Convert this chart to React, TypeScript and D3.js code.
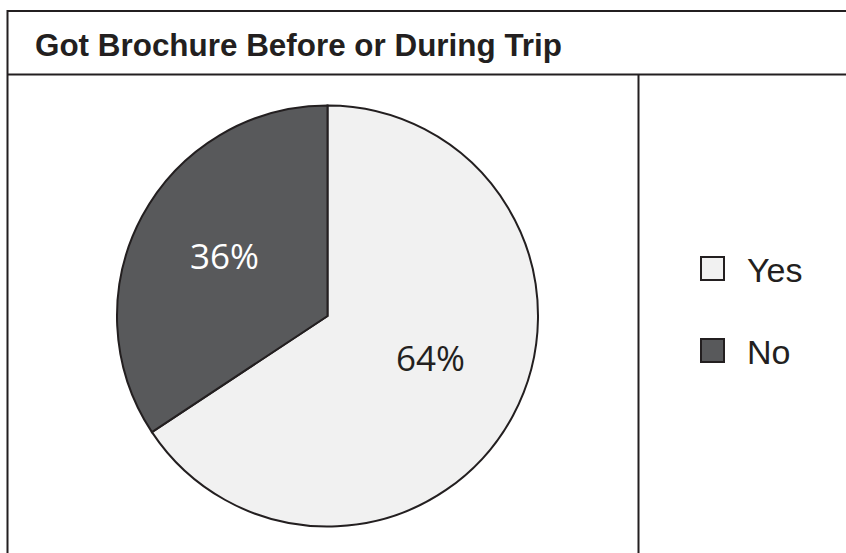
import React from "react";
import * as d3 from "d3";

const categories = ["Yes", "No"];
const sliceValues = [65.7, 34.3];
const sliceLabels = ["64%", "36%"];
const sliceColors = ["#f1f1f1", "#58595b"];
const labelColors = ["#231f20", "#ffffff"];
const title = "Got Brochure Before or During Trip";

const W = 846;
const H = 553;

export default function App() {
  const cx = 327.5;
  const cy = 316;
  const r = 210.5;
  const pie = d3
    .pie<number>()
    .sort(null)
    .value((d) => d)
    .startAngle(0)
    .endAngle(2 * Math.PI);
  const arcs = pie(sliceValues);
  const arc = d3.arc<d3.PieArcDatum<number>>().innerRadius(0).outerRadius(r);
  const labelPos = [
    [103, 46],
    [-103, -56],
  ];

  return (
    <svg
      width={W}
      height={H}
      style={{ position: "absolute", left: 0, top: 0, background: "#fff" }}
    >
      <rect x={0} y={0} width={W} height={H} fill="#fff" />
      {/* frame */}
      <g stroke="#231f20" strokeWidth={2} fill="none">
        <line x1={7.5} y1={11} x2={W + 2} y2={11} />
        <line x1={7.5} y1={10} x2={7.5} y2={H + 2} />
        <line x1={7.5} y1={74.5} x2={W + 2} y2={74.5} />
        <line x1={638.5} y1={74.5} x2={638.5} y2={H + 2} />
      </g>
      <text
        x={35}
        y={56}
        fontFamily="'Liberation Sans', Arial, Helvetica, sans-serif"
        fontWeight="bold"
        fontSize={31}
        textLength={527}
        lengthAdjust="spacingAndGlyphs"
        fill="#231f20"
      >
        {title}
      </text>
      <g transform={`translate(${cx},${cy})`}>
        {arcs.map((a, i) => (
          <path
            key={categories[i]}
            d={arc(a) || ""}
            fill={sliceColors[i]}
            stroke="#231f20"
            strokeWidth={2}
            strokeLinejoin="miter"
          />
        ))}
        {arcs.map((a, i) => (
          <text
            key={"l" + i}
            x={labelPos[i][0]}
            y={labelPos[i][1]}
            textAnchor="middle"
            dominantBaseline="middle"
            fontFamily="'Open Sans', 'Noto Sans', sans-serif"
            fontSize={35}
            fill={labelColors[i]}
          >
            {sliceLabels[i]}
          </text>
        ))}
      </g>
      {categories.map((c, i) => (
        <g key={c} transform={`translate(701,${257 + i * 82})`}>
          <rect
            x={0}
            y={0}
            width={23}
            height={23}
            fill={sliceColors[i]}
            stroke="#231f20"
            strokeWidth={2}
          />
          <text
            x={46}
            y={24.5}
            fontFamily="'Liberation Sans', Arial, Helvetica, sans-serif"
            fontSize={34}
            fill="#231f20"
          >
            {c}
          </text>
        </g>
      ))}
    </svg>
  );
}
